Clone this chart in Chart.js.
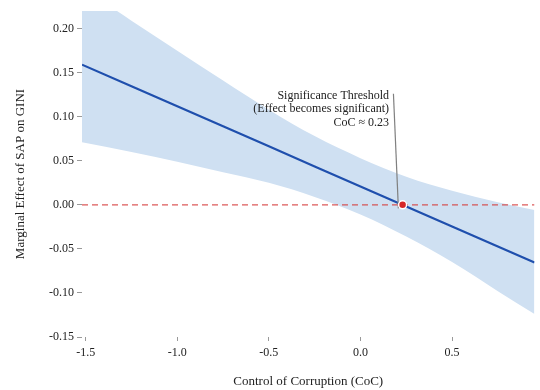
<!DOCTYPE html>
<html>
<head>
<meta charset="utf-8">
<script src="https://cdn.jsdelivr.net/npm/chart.js@4/dist/chart.umd.min.js"></script>
<style>
    html, body { margin: 0; padding: 0; background: #ffffff; }
    #wrap { width: 540px; height: 390px; position: relative; }
</style>
</head>
<body>
<div id="wrap"><canvas id="effectChart"></canvas></div>
<script>
// CoC grid and marginal effect
const cocGrid = [-1.52, -1.25, -1.0, -0.75, -0.5, -0.25, 0, 0.25, 0.5, 0.75, 0.95];
const marginalEffect = [0.1591, 0.1345, 0.1118, 0.0891, 0.0664, 0.0436, 0.0209, -0.0018, -0.0246, -0.0473, -0.0655];
const upperCI = [0.247, 0.209, 0.175, 0.141, 0.108, 0.078, 0.053, 0.032, 0.016, 0.003, -0.006];
const lowerCI = [0.071, 0.060, 0.049, 0.037, 0.025, 0.009, -0.011, -0.036, -0.065, -0.098, -0.124];

const xRange = [-1.52, 0.95];
const yRange = [-0.15, 0.22];
const xTicks = [-1.5, -1.0, -0.5, 0.0, 0.5];
const yTicks = [-0.15, -0.10, -0.05, 0.00, 0.05, 0.10, 0.15, 0.20];

const thresholdCoC = 0.23;
const leaderFrom = { x: 0.18, y: 0.126 };
const leaderTo = { x: 0.207, y: -0.004 };
const noteAnchor = { x: 0.156, y: 0.124 };
const noteLines = ["Significance Threshold", "(Effect becomes significant)", "CoC \u2248 0.23"];

const serif = "'Liberation Serif', 'Times New Roman', serif";

function toPoints(values) {
    return cocGrid.map((coc, idx) => ({ x: coc, y: values[idx] }));
}

const notePlugin = {
    id: "thresholdNote",
    afterDatasetsDraw(chart) {
        const { ctx, scales } = chart;
        const px = scales.x.getPixelForValue(noteAnchor.x);
        const py = scales.y.getPixelForValue(noteAnchor.y);
        ctx.save();
        ctx.font = `12px ${serif}`;
        ctx.fillStyle = "#222";
        ctx.textAlign = "right";
        ctx.textBaseline = "middle";
        noteLines.forEach((line, idx) => {
            ctx.fillText(line, px, py + idx * 13.5);
        });
        ctx.restore();
    },
};

new Chart(document.getElementById("effectChart").getContext("2d"), {
    type: "line",
    data: {
        datasets: [
            {
                data: [{ x: thresholdCoC, y: 0 }],
                showLine: false,
                pointRadius: 4,
                pointBackgroundColor: "#d62728",
                pointBorderColor: "#ffffff",
                pointBorderWidth: 1.5,
            },
            {
                data: [leaderFrom, leaderTo],
                borderColor: "#808080",
                borderWidth: 1.2,
                pointRadius: 0,
            },
            {
                data: toPoints(marginalEffect),
                borderColor: "#1f4fad",
                borderWidth: 2.2,
                pointRadius: 0,
            },
            {
                data: [{ x: xRange[0], y: 0 }, { x: xRange[1], y: 0 }],
                borderColor: "rgba(214, 60, 60, 0.85)",
                borderWidth: 1.3,
                borderDash: [6, 4],
                pointRadius: 0,
            },
            {
                data: toPoints(upperCI),
                borderWidth: 0,
                borderColor: "rgba(0,0,0,0)",
                backgroundColor: "#cfe0f2",
                fill: "+1",
                pointRadius: 0,
                cubicInterpolationMode: "monotone",
            },
            {
                data: toPoints(lowerCI),
                borderWidth: 0,
                borderColor: "rgba(0,0,0,0)",
                pointRadius: 0,
                fill: false,
                cubicInterpolationMode: "monotone",
            },
        ],
    },
    options: {
        responsive: true,
        maintainAspectRatio: false,
        animation: false,
        devicePixelRatio: 1,
        layout: { padding: { top: 11, right: 3, left: 0, bottom: 0 } },
        plugins: {
            legend: { display: false },
            tooltip: { enabled: false },
        },
        scales: {
            x: {
                type: "linear",
                min: xRange[0],
                max: xRange[1],
                afterBuildTicks(scale) { scale.ticks = xTicks.map((value) => ({ value })); },
                afterFit(scale) { scale.height = 53; },
                border: { display: false },
                grid: { drawOnChartArea: false, drawTicks: true, tickLength: 4, color: "#999" },
                ticks: {
                    maxRotation: 0,
                    padding: 5,
                    color: "#222",
                    font: { family: serif, size: 12 },
                    callback: (value) => value.toFixed(1),
                },
                title: {
                    display: true,
                    text: "Control of Corruption (CoC)",
                    color: "#222",
                    font: { family: serif, size: 13 },
                    padding: { top: 0, bottom: 1 },
                },
            },
            y: {
                type: "linear",
                min: yRange[0],
                max: yRange[1],
                afterBuildTicks(scale) { scale.ticks = yTicks.map((value) => ({ value })); },
                afterFit(scale) { scale.width = 82; },
                border: { display: false },
                grid: { drawOnChartArea: false, drawTicks: true, tickLength: 5, color: "#999" },
                ticks: {
                    padding: 3,
                    color: "#222",
                    font: { family: serif, size: 12 },
                    callback: (value) => value.toFixed(2),
                },
                title: {
                    display: true,
                    text: "Marginal Effect of SAP on GINI",
                    color: "#222",
                    font: { family: serif, size: 13 },
                    padding: { top: 13, bottom: 0 },
                },
            },
        },
    },
    plugins: [notePlugin],
});
</script>
</body>
</html>
